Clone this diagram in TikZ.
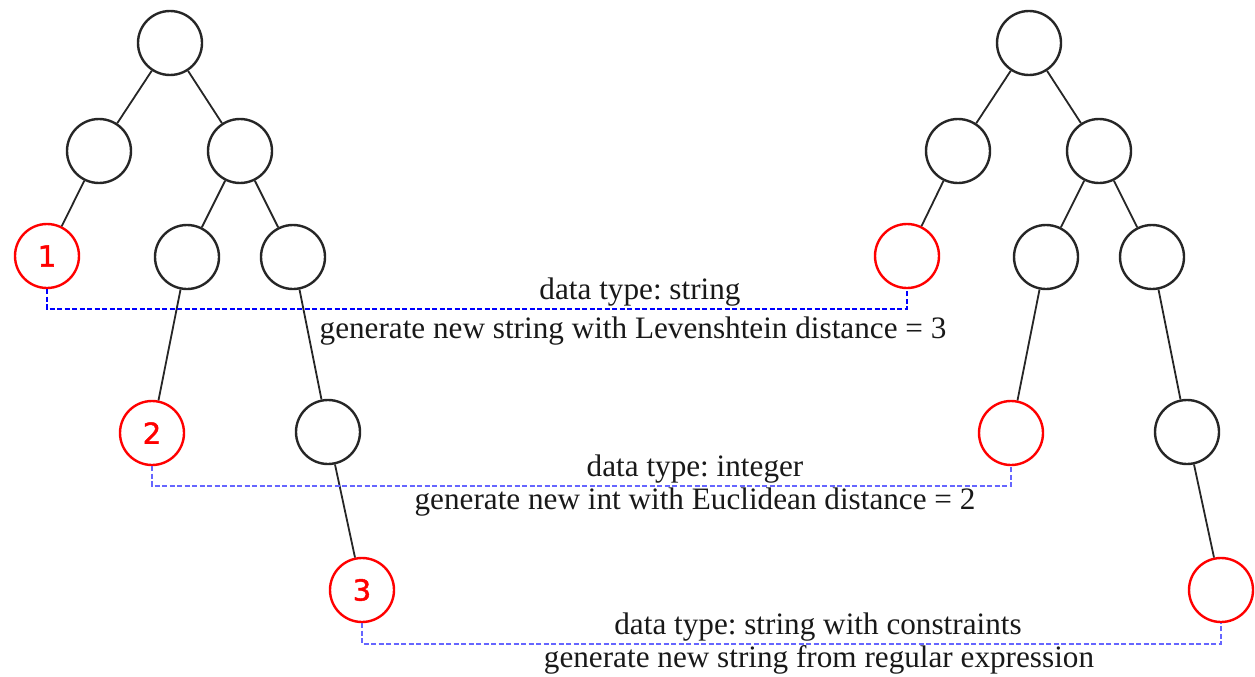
\documentclass[tikz,border=0pt]{standalone}
\usepackage{fontspec}
\setmainfont{Liberation Serif}
\newfontfamily\numfont[FakeBold=1.5]{DejaVu Sans}
\frenchspacing
\begin{document}
\begin{tikzpicture}[x=1pt,y=-1pt,
  tn/.style={circle,draw=black!85,line width=2.4pt,minimum size=64pt,inner sep=0pt},
  rn/.style={tn,draw=red,text=red,font=\numfont\fontsize{29}{29}\selectfont},
  ed/.style={black!85,line width=1.8pt},
  dl/.style={draw=blue,line width=1.2pt,dash pattern=on 5pt off 2.5pt},
  dl2/.style={dl,draw=blue!60},
  lab/.style={anchor=base,inner sep=0pt,font=\fontsize{31.2}{31}\selectfont,text=black!90}]
\useasboundingbox (0,0) rectangle (1255,677);
% left tree
\node[tn] (r0) at (170,43) {};
\node[tn] (a) at (99,151) {};
\node[tn] (b) at (240,151) {};
\node[rn] (n1) at (47,256) {1};
\node[tn] (c) at (187,257) {};
\node[tn] (d) at (293,257) {};
\node[rn] (n2) at (152,433) {2};
\node[tn] (e) at (328,432) {};
\node[rn] (n3) at (362,590) {3};
\draw[ed] (r0)--(a) (r0)--(b) (a)--(n1) (b)--(c) (b)--(d) (c)--(n2) (d)--(e) (e)--(n3);
% right tree
\node[tn] (R0) at (1029,43) {};
\node[tn] (A) at (958,151) {};
\node[tn] (B) at (1099,151) {};
\node[rn] (N1) at (907,256) {};
\node[tn] (C) at (1046,257) {};
\node[tn] (D) at (1152,257) {};
\node[rn] (N2) at (1011,433) {};
\node[tn] (E) at (1187,432) {};
\node[rn] (N3) at (1221,590) {};
\draw[ed] (R0)--(A) (R0)--(B) (A)--(N1) (B)--(C) (B)--(D) (C)--(N2) (D)--(E) (E)--(N3);
% dashed links
\coordinate (m1) at (640,309);
\coordinate (m2) at (695,486);
\coordinate (m3) at (818,644);
\draw[dl] (n1.south) |- (m1) -| (N1.south);
\draw[dl2] (n2.south) |- (m2) -| (N2.south);
\draw[dl2] (n3.south) |- (m3) -| (N3.south);
% labels
\node[lab] (t1a) at (640,299) {data type: string};
\node[lab] (t1b) at (633,338) {generate new string with Levenshtein distance = 3};
\node[lab] (t2a) at (695,476) {data type: integer};
\node[lab] (t2b) at (695,509) {generate new int with Euclidean distance = 2};
\node[lab] (t3a) at (818,634) {data type: string with constraints};
\node[lab] (t3b) at (819,667) {generate new string from regular expression};
\end{tikzpicture}
\end{document}
